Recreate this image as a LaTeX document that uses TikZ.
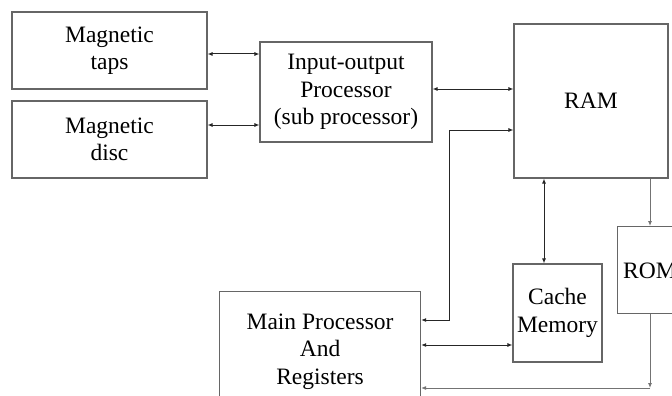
\documentclass[tikz,border=0pt]{standalone}
\usepackage{fontspec}
\setmainfont{Liberation Serif}
\usetikzlibrary{arrows.meta}
\begin{document}
\begin{tikzpicture}[x=1pt,y=-1pt,
  box/.style={draw=black!60, line width=1.1pt, fill=white, inner sep=0pt,
    font=\fontsize{23.5}{27.5}\selectfont, align=center},
  lbl/.style={inner sep=0pt, font=\fontsize{23.5}{27.5}\selectfont},
  conn/.style={draw=black!85, line width=1pt},
  faint/.style={draw=black!55, line width=0.9pt},
  tip/.style={-{Latex[length=5pt,width=4pt]}},
  both/.style={{Latex[length=5pt,width=4pt]}-{Latex[length=5pt,width=4pt]}}]
\useasboundingbox (0,0) rectangle (672,396);

% blocks
\node[box, minimum width=195, minimum height=77] (taps) at (109.5,50.5) {Magnetic\\taps};
\node[box, minimum width=195, minimum height=77] (disc) at (109.5,139.5) {Magnetic\\disc};
\node[box, minimum width=172, minimum height=100] (io) at (346,92) {Input-output\\Processor\\(sub processor)};
\node[box, minimum width=154, minimum height=154] (ram) at (591,101) {RAM};
\node[box, minimum width=89, minimum height=98] (cache) at (557.5,313) {Cache\\Memory};
\node[box, minimum width=100, minimum height=87, anchor=north west] (rom) at (617,226) {};
\node[lbl, anchor=base west] (romtext) at (623,278) {ROM};
\node[box, minimum width=201, minimum height=120, anchor=north west] (main) at (219,291) {Main Processor\\And\\Registers};

% reference levels for the connectors
\coordinate (y54) at (0,54);
\coordinate (y125) at (0,125);
\coordinate (y89) at (0,89);
\coordinate (y130) at (0,130);
\coordinate (y320) at (0,320);
\coordinate (y345) at (0,345);
\coordinate (x449) at (449,0);
\coordinate (x544) at (544,0);
\coordinate (x650) at (650,0);
\coordinate (corner) at (650,388);

% connectors
\draw[conn,both] (taps.east |- y54) -- (io.west |- y54);
\draw[conn,both] (disc.east |- y125) -- (io.west |- y125);
\draw[conn,both] (io.east |- y89) -- (ram.west |- y89);
\draw[conn,both] (main.east |- y320) -- (x449 |- y320) -- (x449 |- y130) -- (ram.west |- y130);
\draw[conn,both] (ram.south -| x544) -- (cache.north -| x544);
\draw[conn,both] (main.east |- y345) -- (cache.west |- y345);
\draw[faint,tip] (ram.south -| x650) -- (rom.north -| x650);
\draw[faint,tip] (rom.south -| x650) -- (corner);
\draw[faint,tip] (corner) -- (main.east |- corner);
\end{tikzpicture}
\end{document}
